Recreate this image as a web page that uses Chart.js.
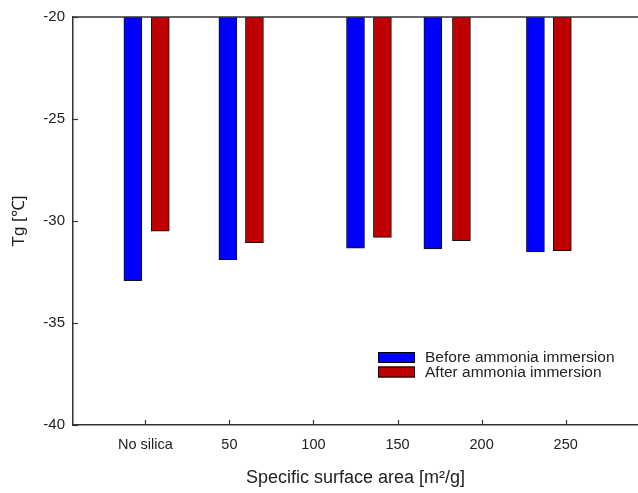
<!DOCTYPE html>
<html>
<head>
<meta charset="utf-8">
<script src="https://cdn.jsdelivr.net/npm/chart.js@4.4.1/dist/chart.umd.min.js"></script>
<style>
  html, body { margin: 0; padding: 0; background: #fff; }
  #wrap { width: 638px; height: 493px; }
</style>
</head>
<body>
<div id="wrap"><canvas id="myChart" width="638" height="493"></canvas></div>
<script>
// tick values on the x axis and their labels
var xTicks = [0, 50, 100, 150, 200, 250];
var xTickLabels = ["No silica", "50", "100", "150", "200", "250"];
var yTicks = [-20, -25, -30, -35, -40];

// bar positions (x axis units)
var xBefore = [-7.4, 49.1, 125, 171, 232];
var xAfter = [8.9, 64.9, 141, 188, 248];

// Tg values
var before = [-32.92, -31.89, -31.33, -31.37, -31.51];
var after = [-30.50, -31.06, -30.80, -30.96, -31.45];

var seriesNames = ["Before ammonia immersion", "After ammonia immersion"];

Chart.defaults.font.family = "Arial, 'Liberation Sans', sans-serif";
Chart.defaults.color = "#222";

var frameAndTicks = {
  id: "frameAndTicks",
  afterDatasetsDraw: function (chart) {
    var c = chart.ctx;
    var a = chart.chartArea;
    var xs = chart.scales.x, ys = chart.scales.y;
    c.save();
    c.strokeStyle = "#333";
    c.lineWidth = 1.5;
    c.beginPath();
    c.moveTo(a.left, a.top);
    c.lineTo(a.right, a.top);
    c.stroke();
    c.lineWidth = 1.2;
    // inward ticks
    xTicks.forEach(function (v) {
      var px = Math.round(xs.getPixelForValue(v)) + 0.5;
      c.beginPath();
      c.moveTo(px, a.bottom);
      c.lineTo(px, a.bottom - 5);
      c.stroke();
    });
    yTicks.forEach(function (v) {
      var py = Math.round(ys.getPixelForValue(v)) + 0.5;
      c.beginPath();
      c.moveTo(a.left, py);
      c.lineTo(a.left + 5, py);
      c.stroke();
    });
    // legend inside the plot
    var lx = 378, ly = 352;
    c.font = "15.5px Arial, 'Liberation Sans', sans-serif";
    c.textBaseline = "middle";
    chart.data.datasets.forEach(function (ds, i) {
      var y = ly + i * 14.5;
      c.fillStyle = ds.backgroundColor;
      c.fillRect(lx, y, 37, 11);
      c.strokeStyle = "#000";
      c.lineWidth = 1;
      c.strokeRect(lx + 0.5, y + 0.5, 36, 10);
      c.fillStyle = "#222";
      c.fillText(ds.label, lx + 47, y + 6);
    });
    c.restore();
  }
};

var ctx = document.getElementById("myChart").getContext("2d");

var myChart = new Chart(ctx, {
  type: "bar",
  plugins: [frameAndTicks],
  data: {
    datasets: [
      {
        label: seriesNames[0],
        data: xBefore.map(function (x, i) { return { x: x, y: before[i] }; }),
        backgroundColor: "#0000ff",
        borderColor: "#111",
        borderWidth: 1,
        base: -20,
        grouped: false,
        barThickness: 18
      },
      {
        label: seriesNames[1],
        data: xAfter.map(function (x, i) { return { x: x, y: after[i] }; }),
        backgroundColor: "#c00000",
        borderColor: "#111",
        borderWidth: 1,
        base: -20,
        grouped: false,
        barThickness: 18
      }
    ]
  },
  options: {
    responsive: false,
    animation: false,
    layout: { padding: { top: 16, left: 0, right: 0, bottom: 0 } },
    plugins: {
      legend: { display: false },
      tooltip: { enabled: false }
    },
    scales: {
      x: {
        type: "linear",
        offset: false,
        min: -43,
        max: 293,
        afterBuildTicks: function (scale) {
          scale.ticks = xTicks.map(function (v) { return { value: v }; });
        },
        afterFit: function (scale) { scale.height = 68; },
        grid: { display: false, drawTicks: false, offset: false },
        border: { display: true, color: "#333", width: 1.5 },
        ticks: {
          padding: 11,
          font: { size: 14.5 },
          maxRotation: 0,
          autoSkip: false,
          callback: function (v) {
            var i = xTicks.indexOf(v);
            return i >= 0 ? xTickLabels[i] : "";
          }
        },
        title: {
          display: true,
          text: "Specific surface area [m\u00b2/g]",
          font: { size: 18 },
          padding: { top: 0, bottom: 4 }
        }
      },
      y: {
        min: -40,
        max: -20,
        afterBuildTicks: function (scale) {
          scale.ticks = yTicks.map(function (v) { return { value: v }; });
        },
        afterFit: function (scale) { scale.width = 73; },
        grid: { display: false, drawTicks: false },
        border: { display: true, color: "#333", width: 1.5 },
        ticks: { padding: 8, font: { size: 15 } },
        title: {
          display: true,
          text: "Tg [\u2103]",
          font: { size: 17 },
          padding: { top: 9, bottom: 0 }
        }
      }
    }
  }
});
</script>
</body>
</html>
